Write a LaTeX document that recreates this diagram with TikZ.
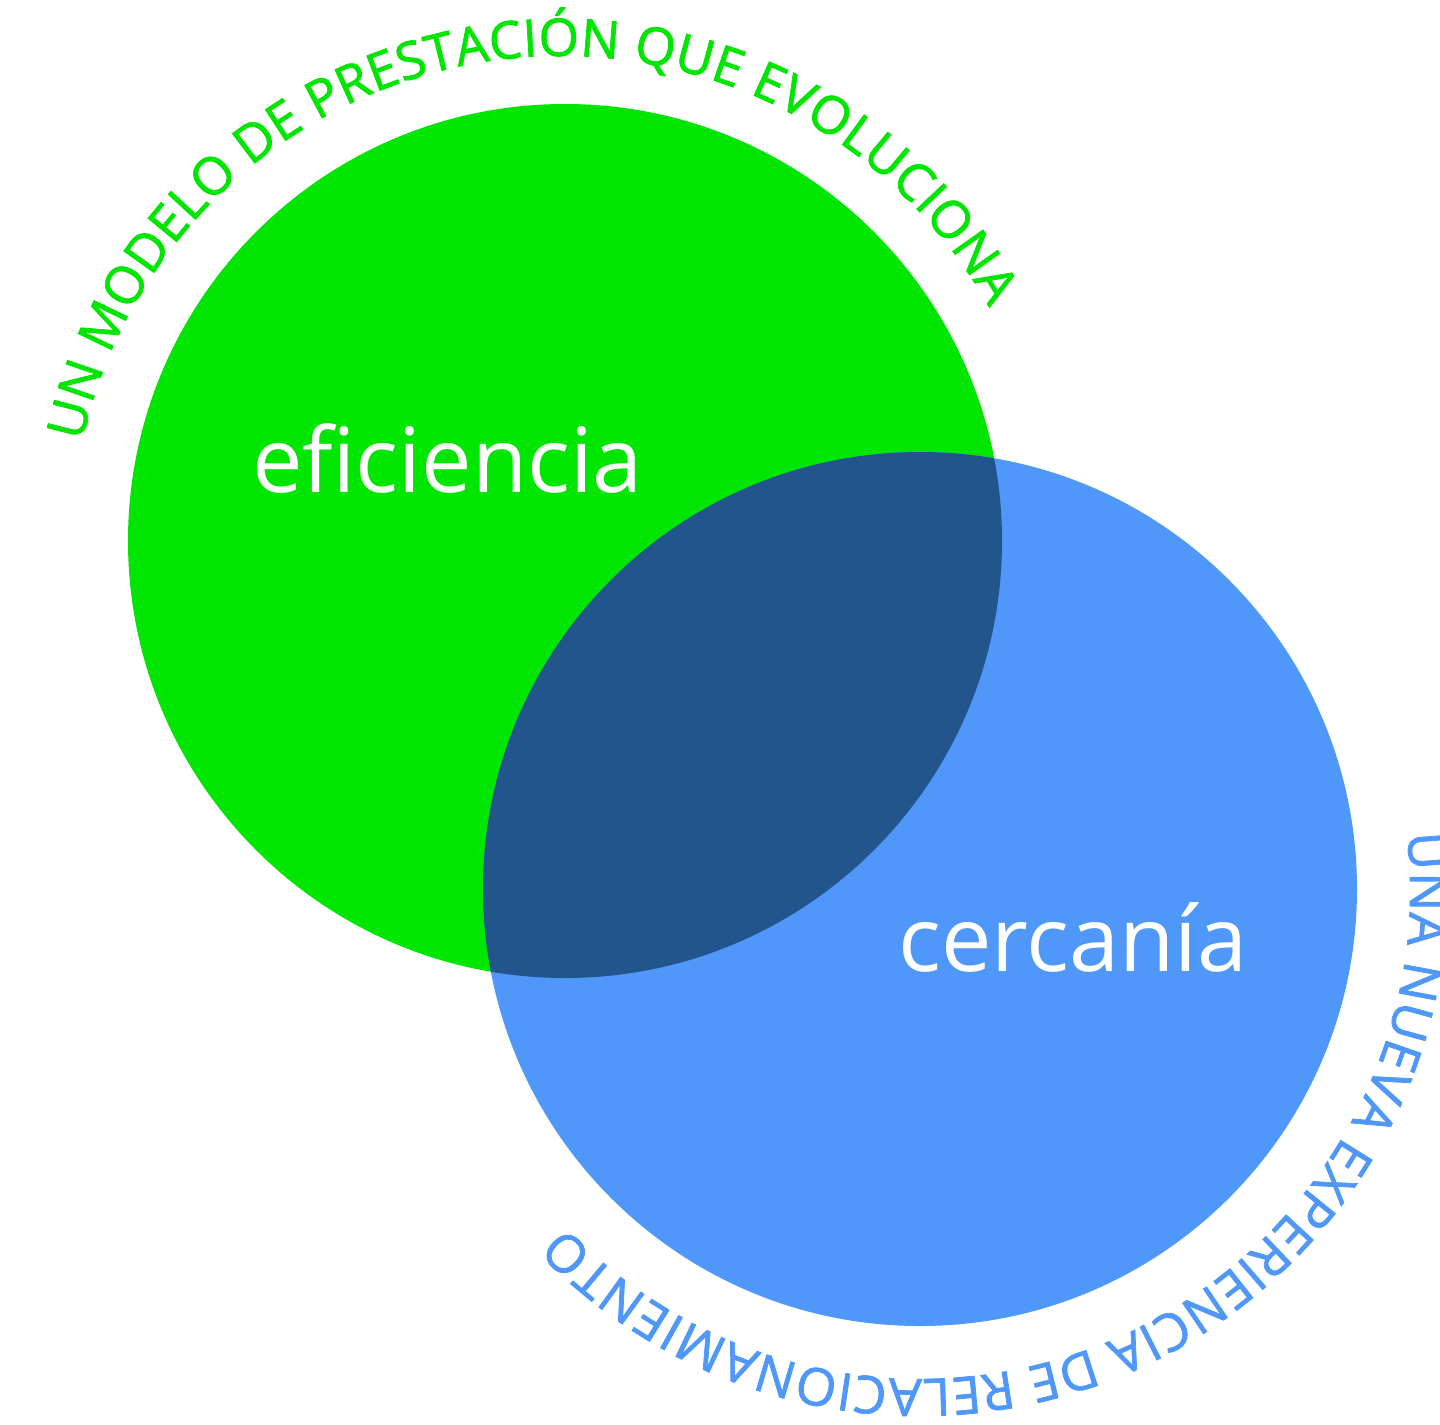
\documentclass[tikz,border=0pt]{standalone}
\usepackage{fontspec}
\setmainfont{Open Sans}
\newfontfamily\arcfont{Open Sans}[BoldFont={Open Sans}, BoldFeatures={FakeBold=1.4}]
\usetikzlibrary{decorations.text}
\definecolor{cgreen}{HTML}{00E600}
\definecolor{cblue}{HTML}{4F97F9}
\definecolor{cdark}{HTML}{21558B}
\begin{document}
\begin{tikzpicture}[x=1pt,y=1pt,
  bigtext/.style={text=white, font=\fontsize{90}{100}\selectfont, inner sep=0pt, anchor=base west},
  arctext/.style={decorate, decoration={text along path, text align=fit to path, text color=#1}}]
\useasboundingbox (0,0) rectangle (1440,-1424);
\coordinate (g) at (565,-541);
\coordinate (b) at (920,-889);
\coordinate (gt) at (561,-546);
\fill[cgreen] (g) circle[radius=437];
\fill[cblue] (b) circle[radius=437];
\begin{scope}
  \clip (g) circle[radius=437];
  \fill[cdark] (b) circle[radius=437];
\end{scope}
\node[bigtext] (ef) at (252,-492) {eficiencia};
\node[bigtext] (ce) at (898,-971) {cercanía};
\path[arctext=cgreen, decoration={text={|\arcfont\bfseries\fontsize{52}{60}\selectfont|UN MODELO DE PRESTACIÓN QUE EVOLUCIONA}}]
  (gt) ++(167.7:490) arc[start angle=167.7, end angle=29.1, radius=490];
\path[arctext=cblue, decoration={text={|\arcfont\bfseries\fontsize{52}{60}\selectfont|UNA NUEVA EXPERIENCIA DE RELACIONAMIENTO}}]
  (b) ++(6.5:490) arc[start angle=6.5, end angle=-136.5, radius=490];
\end{tikzpicture}
\end{document}
